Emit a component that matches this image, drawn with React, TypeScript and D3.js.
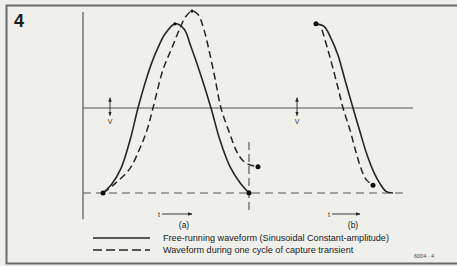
import React from 'react';
import * as d3 from 'd3';

type P = [number, number];

// time (t) vs. voltage (v, normalised: baseline -1, centre 0)
const solidA: P[] = [
  [2.0, -1.0], [2.9, -0.89], [3.8, -0.71], [4.7, -0.38], [5.5, 0], [6.3, 0.33],
  [6.9, 0.54], [7.5, 0.71], [8.2, 0.87], [9.2, 0.99], [10.1, 0.93], [10.8, 0.72],
  [11.8, 0.38], [12.8, 0], [13.7, -0.38], [14.7, -0.69], [15.7, -0.88], [16.6, -1.0],
];
const dashedA: P[] = [
  [2.0, -1.0], [3.2, -0.89], [4.7, -0.71], [5.7, -0.47], [6.4, -0.26], [7.0, 0],
  [8.0, 0.45], [8.9, 0.71], [9.7, 0.94], [10.3, 1.08], [10.9, 1.14], [11.5, 1.1],
  [12.1, 0.92], [12.6, 0.68], [13.2, 0.35], [13.8, 0], [14.7, -0.31], [15.4, -0.52],
  [16.0, -0.62], [16.7, -0.67], [17.5, -0.69],
];
const solidB: P[] = [
  [23.3, 0.99], [24.1, 0.96], [24.8, 0.82], [25.5, 0.62], [26.2, 0.33], [27.0, 0],
  [27.7, -0.28], [28.4, -0.55], [29.1, -0.76], [29.7, -0.89], [30.3, -0.98], [31.0, -1.0],
];
const dashedB: P[] = [
  [23.9, 0.92], [24.5, 0.68], [25.1, 0.42], [25.6, 0.19], [26.0, 0], [26.7, -0.26],
  [27.3, -0.52], [27.8, -0.71], [28.3, -0.84], [29.0, -0.91],
];
const dots: P[] = [
  [2.0, -1.0], [16.6, -1.0], [17.5, -0.69], [23.3, 0.99], [29.0, -0.91],
];
const peaks: P[] = [[9.2, 0.99], [10.9, 1.14]];

const axisT = [0, 33];
const axisV = [1.13, -1.31];
const baselineT = [0, 32.5];
const markerT = 16.6;
const markerV = [-0.4, -1.2];
const vArrowT = [2.7, 21.4];
const tArrows = [
  { label: '(a)', t0: 7.9, t1: 10.9 },
  { label: '(b)', t0: 24.9, t1: 27.7 },
];
const legendLabels = [
  'Free-running waveform (Sinusoidal Constant-amplitude)',
  'Waveform during one cycle of capture transient',
];

const W = 457, H = 266;
const x = d3.scaleLinear().domain([0, 33]).range([83, 413]);
const y = d3.scaleLinear().domain([-1, 0]).range([193, 108]);
const line = d3.line<P>().x(d => x(d[0])).y(d => y(d[1])).curve(d3.curveCatmullRom.alpha(0.5));

const INK = '#262626';
const GREY = '#555';
const FONT = '"Liberation Sans", Arial, sans-serif';

export default function App() {
  return (
    <svg width={W} height={H} style={{ position: 'fixed', left: 0, top: 0, background: '#efefec' }}
      fontFamily={FONT}>
      <defs>
        <marker id="ah" viewBox="0 0 10 10" refX="9" refY="5" markerWidth="5" markerHeight="5" orient="auto-start-reverse">
          <path d="M0,1 L10,5 L0,9 Z" fill={INK} />
        </marker>
      </defs>
      <rect x={0} y={0} width={W} height={H} fill="#efefec" />
      {/* frame */}
      <path d={`M470,5.5 H6.5 V263.5 H470`} fill="none" stroke="#6a6a6a" strokeWidth={2} />
      <text x={14} y={27} fontSize={18} fontWeight="bold" fill="#1c1c1c">4</text>

      {/* axes */}
      <line x1={x(0)} x2={x(0)} y1={y(axisV[0])} y2={y(axisV[1])} stroke={GREY} strokeWidth={1.2} />
      <line x1={x(axisT[0])} x2={x(axisT[1])} y1={y(0)} y2={y(0)} stroke={GREY} strokeWidth={1.2} />
      <line x1={x(baselineT[0])} x2={x(baselineT[1])} y1={y(-1)} y2={y(-1)} stroke={GREY} strokeWidth={1.2} strokeDasharray="8,5" />
      <line x1={x(markerT)} x2={x(markerT)} y1={y(markerV[0])} y2={y(markerV[1])} stroke={GREY} strokeWidth={1.2} strokeDasharray="8,4" />

      {/* V arrows */}
      {vArrowT.map((t, i) => (
        <g key={i}>
          <line x1={x(t)} x2={x(t)} y1={y(0.12)} y2={y(-0.09)} stroke={INK} strokeWidth={0.9}
            markerStart="url(#ah)" markerEnd="url(#ah)" />
          <text x={x(t)} y={y(-0.19)} fontSize={7} textAnchor="middle" fill="#333">V</text>
        </g>
      ))}

      {/* curves */}
      <path d={line(solidA) || ''} fill="none" stroke={INK} strokeWidth={1.6} />
      <path d={line(dashedA) || ''} fill="none" stroke={INK} strokeWidth={1.5} strokeDasharray="7,4" />
      <path d={line(solidB) || ''} fill="none" stroke={INK} strokeWidth={1.6} />
      <path d={line(dashedB) || ''} fill="none" stroke={INK} strokeWidth={1.5} strokeDasharray="7,4" />
      {dots.map((d, i) => <circle key={i} cx={x(d[0])} cy={y(d[1])} r={2.5} fill="#111" />)}
      {peaks.map((d, i) => <circle key={i} cx={x(d[0])} cy={y(d[1])} r={1.6} fill="#111" />)}

      {/* t arrows */}
      {tArrows.map((a, i) => (
        <g key={i}>
          <text x={x(a.t0) - 2} y={217} fontSize={7} textAnchor="end" fill="#333">t</text>
          <line x1={x(a.t0)} x2={x(a.t1)} y1={214} y2={214} stroke={INK} strokeWidth={0.9} markerEnd="url(#ah)" />
          <text x={(x(a.t0) + x(a.t1)) / 2 + 7} y={228} fontSize={8.5} textAnchor="middle" fill="#222">{a.label}</text>
        </g>
      ))}

      {/* legend */}
      <line x1={93} x2={150} y1={238} y2={238} stroke={INK} strokeWidth={1.5} />
      <line x1={93} x2={150} y1={250} y2={250} stroke={INK} strokeWidth={1.5} strokeDasharray="9,4" />
      <text x={163} y={241} fontSize={9.1} fill="#222">{legendLabels[0]}</text>
      <text x={163} y={253} fontSize={9.1} fill="#222">{legendLabels[1]}</text>
      <text x={414} y={258} fontSize={5.5} fill="#444">6004 · 4</text>
    </svg>
  );
}
